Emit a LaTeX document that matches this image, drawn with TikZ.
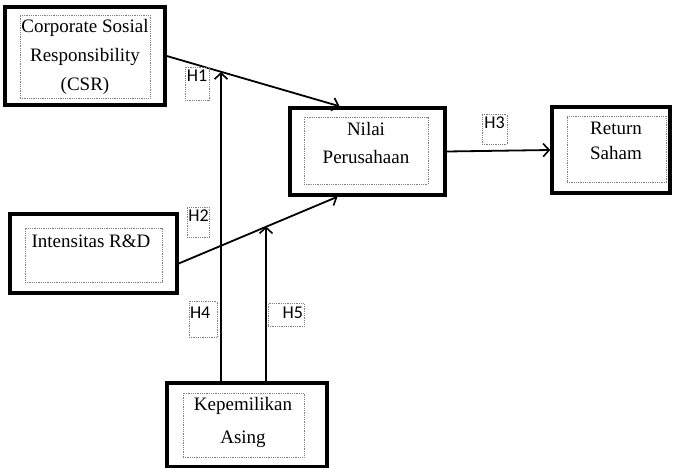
\documentclass[tikz,border=0pt]{standalone}
\usepackage{fontspec}
\setmainfont{Liberation Serif}
\newfontfamily\labfont{Carlito}
\usetikzlibrary{arrows.meta,calc}
\begin{document}
\begin{tikzpicture}[x=1pt,y=-1pt,
 outerbox/.style={draw, line width=3.5pt, inner sep=0pt},
 innerbox/.style={draw=gray, densely dotted, line width=0.8pt, inner sep=0pt},
 txt/.style={font=\fontsize{19}{#1}\selectfont, align=center, inner sep=0pt},
 txt/.default=28,
 hlab/.style={draw=gray, densely dotted, line width=0.8pt, font=\labfont\fontsize{18}{20}\selectfont, inner xsep=1pt, inner ysep=2pt, text height=12pt, anchor=north},
 conn/.style={line width=1.8pt, -{Straight Barb[length=6pt,width=13pt,line width=1.6pt]}}]
\path[use as bounding box, fill=white] (0,0) rectangle (674,468);

% boxes
\node[outerbox, minimum width=160pt, minimum height=98pt] (csr) at (85,56) {};
\node[innerbox, minimum width=130pt, minimum height=83pt] (csrin) at (85,56.5) {};
\node[txt=29] (csrt) at (85,57) {Corporate Sosial\\Responsibility\\(CSR)};

\node[outerbox, minimum width=155pt, minimum height=87pt] (nilai) at (367.5,151.5) {};
\node[innerbox, minimum width=124pt, minimum height=67pt] (nilaiin) at (366,150.5) {};
\node[txt=28] (nilait) at (366,143) {Nilai\\Perusahaan};

\node[outerbox, minimum width=118pt, minimum height=86pt] (ret) at (611,150) {};
\node[innerbox, minimum width=99pt, minimum height=66pt] (retin) at (616.5,149) {};
\node[txt=25] (rett) at (616,141) {Return\\Saham};

\node[outerbox, minimum width=167pt, minimum height=79pt] (rd) at (93.5,253.5) {};
\node[innerbox, minimum width=137pt, minimum height=54pt] (rdin) at (93.5,255) {};
\node[txt] (rdt) at (91,241) {Intensitas R\&D};

\node[outerbox, minimum width=160pt, minimum height=84pt] (kep) at (247,425) {};
\node[innerbox, minimum width=121pt, minimum height=64pt] (kepin) at (243.5,425) {};
\node[txt=33] (kept) at (243,422) {Kepemilikan\\Asing};

% connector endpoints
\coordinate (nilaitop) at ([xshift=-28pt]nilai.north);
\coordinate (nilaibot) at ([xshift=-30pt]nilai.south);
\coordinate (rdout) at ([yshift=-10pt]rd.east);
\coordinate (h4top) at ($(csr.east)!0.32!(nilaitop)$);
\coordinate (h5top) at ($(rdout)!0.556!(nilaibot)$);
\coordinate (h4bot) at ([xshift=-26pt]kep.north);
\coordinate (h5bot) at ([xshift=19pt]kep.north);

% connectors
\draw[conn] (csr.east) -- (nilaitop);
\draw[conn] (rdout) -- (nilaibot);
\draw[conn] (nilai.east) -- (ret.west);
\draw[conn] (h4bot) -- (h4bot |- h4top);
\draw[conn] (h5bot) -- (h5bot |- h5top);

% hypothesis labels
\node[hlab, minimum width=24pt, text depth=17pt] (h1) at (197,67) {H1};
\node[hlab, minimum width=21pt, text depth=14pt] (h2) at (198.5,207) {H2};
\node[hlab, minimum width=25pt, text depth=14pt] (h3) at (494.5,114) {H3};
\node[hlab, text width=26pt, align=left, text depth=14pt, inner ysep=5pt] (h4) at (203,301) {H4};
\node[hlab, text width=34pt, align=right, text depth=5pt, inner ysep=3pt] (h5) at (286,303) {H5};
\end{tikzpicture}
\end{document}
